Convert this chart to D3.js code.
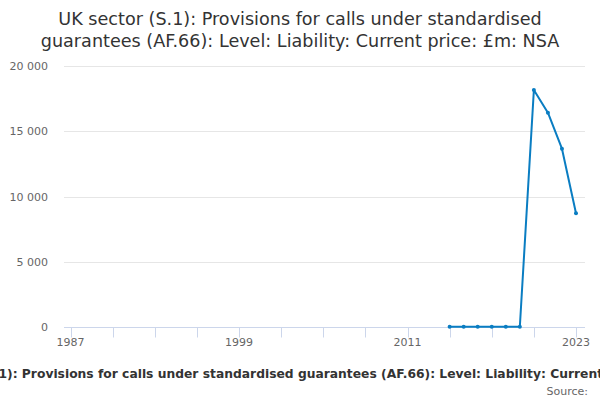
<!DOCTYPE html>
<html><head><meta charset="utf-8">
<script src="https://cdn.jsdelivr.net/npm/d3@7"></script>
<style>body{margin:0;background:#fff;overflow:hidden}svg{display:block;font-family:"DejaVu Sans",sans-serif}</style>
</head><body><div id="chart"></div>
<script>
const titleLines = ["UK sector (S.1): Provisions for calls under standardised", "guarantees (AF.66): Level: Liability: Current price: £m: NSA"];
const seriesName = "UK sector (S.1): Provisions for calls under standardised guarantees (AF.66): Level: Liability: Current price: £m: NSA";
const years = [2014, 2015, 2016, 2017, 2018, 2019, 2020, 2021, 2022, 2023];
const values = [40, 40, 40, 40, 40, 40, 18180, 16440, 13680, 8730];
const yTicks = [0, 5000, 10000, 15000, 20000];
const xLabelYears = [1987, 1999, 2011, 2023];
const xTickYears = d3.range(1987, 2024, 3);

const W = 600, H = 400;
const svg = d3.select("#chart").append("svg").attr("width", W).attr("height", H);
const x = d3.scaleLinear().domain([1987, 2023]).range([70.5, 576]);
const y = d3.scaleLinear().domain([0, 20000]).range([327.3, 66.2]);
const plotL = 64, plotR = 585;

svg.append("g").selectAll("text").data(titleLines).join("text")
  .attr("x", 300).attr("y", (d, i) => 25 + i * 22).attr("text-anchor", "middle")
  .attr("fill", "#333").style("font-size", "17.6px").text(d => d);

svg.append("g").selectAll("line").data(yTicks.filter(d => d > 0)).join("line")
  .attr("x1", plotL).attr("x2", plotR).attr("y1", d => Math.round(y(d)) + 0.5).attr("y2", d => Math.round(y(d)) + 0.5)
  .attr("stroke", "#e6e6e6").attr("stroke-width", 1);

const fmt = d => d3.format(",")(d).replace(/,/g, " ");
svg.append("g").selectAll("text").data(yTicks).join("text")
  .attr("x", 48).attr("y", d => y(d) + 4).attr("text-anchor", "end")
  .attr("fill", "#666").style("font-size", "11px").text(fmt);

svg.append("line").attr("x1", plotL).attr("x2", plotR).attr("y1", 327.5).attr("y2", 327.5)
  .attr("stroke", "#ccd6eb").attr("stroke-width", 1);
svg.append("g").selectAll("line").data(xTickYears).join("line")
  .attr("x1", d => Math.round(x(d)) + 0.5).attr("x2", d => Math.round(x(d)) + 0.5)
  .attr("y1", 327.5).attr("y2", 337.5).attr("stroke", "#ccd6eb");
svg.append("g").selectAll("text").data(xLabelYears).join("text")
  .attr("x", d => x(d)).attr("y", 346).attr("text-anchor", "middle")
  .attr("fill", "#666").style("font-size", "11px").text(d => d);

const line = d3.line().x((d, i) => x(years[i])).y(d => y(d));
svg.append("path").datum(values).attr("d", line).attr("fill", "none")
  .attr("stroke", "#0a7dc2").attr("stroke-width", 2).attr("stroke-linejoin", "round");
svg.append("g").selectAll("circle").data(values).join("circle")
  .attr("cx", (d, i) => x(years[i])).attr("cy", d => y(d)).attr("r", 2).attr("fill", "#0a7dc2");

// legend: sized and placed so its visible part matches the reference
const leg = svg.append("text").attr("y", 378).attr("fill", "#333")
  .style("font-weight", "bold").style("font-size", "12px");
const measure = s => { leg.text(s); return leg.node().getComputedTextLength(); };
const i0 = seriesName.indexOf("1):");
const i1 = seriesName.indexOf("Current") + 6;
const wVis = measure(seriesName.slice(i0, i1));
const fs = 12 * 599 / wVis;
leg.style("font-size", fs + "px");
const wHead = measure(seriesName.slice(0, i0));
leg.attr("x", -1.5 - wHead).attr("text-anchor", "start").text(seriesName);

svg.append("text").attr("x", 588).attr("y", 395).attr("text-anchor", "end")
  .attr("fill", "#666").style("font-size", "11px").text("Source:");
</script></body></html>
